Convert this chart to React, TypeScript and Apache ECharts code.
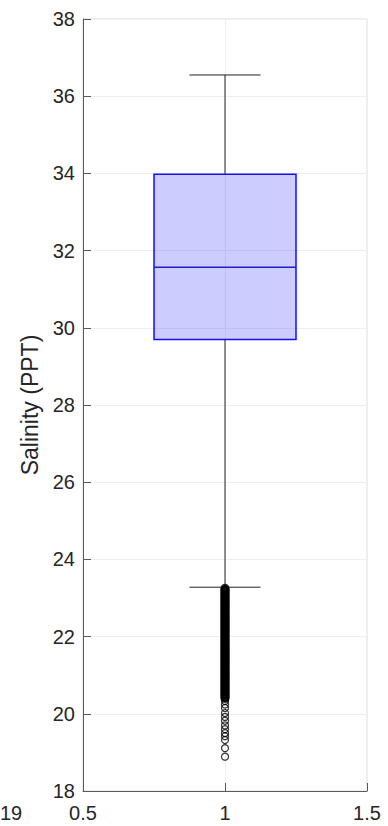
import React, { useEffect, useRef } from "react";
import * as echarts from "echarts";

const yTicks = [18, 20, 22, 24, 26, 28, 30, 32, 34, 36, 38];
const xTicks = [0.5, 1, 1.5];
const yLabel = "Salinity (PPT)";
const cutLabel = "19";

// [x, lowerWhisker, q1, median, q3, upperWhisker]
const boxStats = [[1, 23.28, 29.7, 31.57, 33.98, 36.55]];

const denseOutliers = [
  23.25, 23.22, 23.19, 23.16, 23.13, 23.1, 23.07, 23.04, 23.01, 22.98,
  22.95, 22.92, 22.89, 22.86, 22.83, 22.8, 22.77, 22.74, 22.71, 22.68,
  22.65, 22.62, 22.59, 22.56, 22.53, 22.5, 22.47, 22.44, 22.41, 22.38,
  22.35, 22.32, 22.29, 22.26, 22.23, 22.2, 22.17, 22.14, 22.11, 22.08,
  22.05, 22.02, 21.99, 21.96, 21.93, 21.9, 21.87, 21.84, 21.81, 21.78,
  21.75, 21.72, 21.69, 21.66, 21.63, 21.6, 21.57, 21.54, 21.51, 21.48,
  21.45, 21.42, 21.39, 21.36, 21.33, 21.3, 21.27, 21.24, 21.21, 21.18,
  21.15, 21.12, 21.09, 21.06, 21.03, 21.0, 20.97, 20.94, 20.91, 20.88,
  20.85, 20.82, 20.79, 20.76, 20.73, 20.7, 20.67, 20.64, 20.61, 20.58,
  20.55, 20.52, 20.49, 20.46, 20.43, 20.4,
];

const sparseOutliers = [
  20.33, 20.24, 20.15, 20.02, 19.92, 19.82, 19.7, 19.6, 19.5, 19.42, 19.32,
  19.11, 18.89,
];

const FONT = "'Liberation Sans', Arial, Helvetica, sans-serif";

export default function App() {
  const ref = useRef<HTMLDivElement>(null);

  useEffect(() => {
    document.body.style.margin = "0";
    if (!ref.current) return;
    const chart = echarts.init(ref.current, null, { renderer: "svg" });

    const option: any = {
      animation: false,
      backgroundColor: "#ffffff",
      grid: {
        left: 83,
        right: 21,
        top: 19,
        bottom: 35,
        show: true,
        borderColor: "#dcdcdc",
        borderWidth: 1,
        containLabel: false,
        outerBoundsMode: "none",
      },
      xAxis: {
        type: "value",
        min: xTicks[0],
        max: xTicks[xTicks.length - 1],
        interval: 0.5,
        axisLine: { show: true, onZero: false, lineStyle: { color: "#5a5a5a", width: 1 } },
        axisTick: { show: true, inside: true, length: 8, lineStyle: { color: "#5a5a5a" } },
        axisLabel: {
          fontSize: 20,
          color: "#262626",
          fontFamily: FONT,
          margin: 12,
          formatter: (v: number) => String(v),
        },
        splitLine: { show: true, lineStyle: { color: "#eeeeee", width: 1 } },
      },
      yAxis: {
        type: "value",
        min: yTicks[0],
        max: yTicks[yTicks.length - 1],
        interval: 2,
        name: yLabel,
        nameLocation: "middle",
        nameGap: 36,
        nameTextStyle: { fontSize: 23, color: "#262626", fontFamily: FONT },
        axisLine: { show: true, lineStyle: { color: "#5a5a5a", width: 1 } },
        axisTick: { show: true, inside: true, length: 8, lineStyle: { color: "#5a5a5a" } },
        axisLabel: { fontSize: 20, color: "#262626", fontFamily: FONT, margin: 8 },
        splitLine: { show: true, lineStyle: { color: "#eeeeee", width: 1 } },
      },
      series: [
        {
          type: "custom",
          data: boxStats,
          z: 3,
          renderItem: (params: any, api: any) => {
            const x = api.value(0);
            const lo = api.value(1);
            const q1 = api.value(2);
            const med = api.value(3);
            const q3 = api.value(4);
            const hi = api.value(5);
            const half = 0.25;
            const cap = 0.125;
            const tl = api.coord([x - half, q3]);
            const br = api.coord([x + half, q1]);
            const pHi = api.coord([x, hi]);
            const pQ3 = api.coord([x, q3]);
            const pQ1 = api.coord([x, q1]);
            const pLo = api.coord([x, lo]);
            const capHiL = api.coord([x - cap, hi]);
            const capHiR = api.coord([x + cap, hi]);
            const capLoL = api.coord([x - cap, lo]);
            const capLoR = api.coord([x + cap, lo]);
            const mL = api.coord([x - half, med]);
            const mR = api.coord([x + half, med]);
            const wStyle = { stroke: "#222222", lineWidth: 1 };
            return {
              type: "group",
              children: [
                { type: "line", shape: { x1: pHi[0], y1: pHi[1], x2: pQ3[0], y2: pQ3[1] }, style: wStyle },
                { type: "line", shape: { x1: pQ1[0], y1: pQ1[1], x2: pLo[0], y2: pLo[1] }, style: wStyle },
                { type: "line", shape: { x1: capHiL[0], y1: capHiL[1], x2: capHiR[0], y2: capHiR[1] }, style: wStyle },
                { type: "line", shape: { x1: capLoL[0], y1: capLoL[1], x2: capLoR[0], y2: capLoR[1] }, style: wStyle },
                {
                  type: "rect",
                  shape: { x: tl[0], y: tl[1], width: br[0] - tl[0], height: br[1] - tl[1] },
                  style: { fill: "rgba(0,0,255,0.2)", stroke: "#1010f0", lineWidth: 1.5 },
                },
                {
                  type: "line",
                  shape: { x1: mL[0], y1: mL[1], x2: mR[0], y2: mR[1] },
                  style: { stroke: "#1f1fc8", lineWidth: 1.5 },
                },
              ],
            };
          },
        },
        {
          type: "scatter",
          z: 4,
          data: denseOutliers.map((v) => [1, v]),
          symbol: "circle",
          symbolSize: 7,
          itemStyle: { color: "rgba(0,0,0,0)", borderColor: "#000000", borderWidth: 2.2 },
        },
        {
          type: "scatter",
          z: 4,
          data: sparseOutliers.map((v) => [1, v]),
          symbol: "circle",
          symbolSize: 7,
          itemStyle: { color: "rgba(0,0,0,0)", borderColor: "#000000", borderWidth: 1.2 },
        },
      ],
      graphic: [
        {
          type: "text",
          left: 0,
          top: 803,
          style: { text: cutLabel, fontSize: 20, fill: "#262626", fontFamily: FONT },
        },
      ],
    };

    chart.setOption(option);
    return () => chart.dispose();
  }, []);

  return (
    <div
      ref={ref}
      style={{ position: "absolute", left: 0, top: 0, width: 388, height: 826 }}
    />
  );
}
